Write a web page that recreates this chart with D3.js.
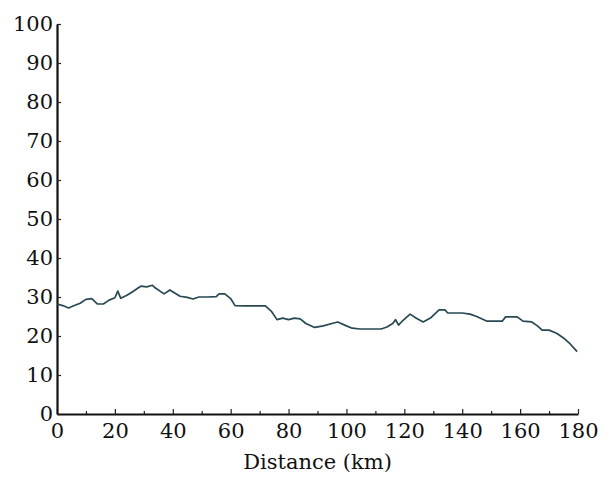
<!DOCTYPE html>
<html>
<head>
<meta charset="utf-8">
<script src="https://cdnjs.cloudflare.com/ajax/libs/d3/7.8.5/d3.min.js"></script>
<style>
  body { margin: 0; background: #fff; }
</style>
</head>
<body>
<div id="chart"></div>
<script>
var width = 605,
    height = 483,
    margin = {top: 24, right: 27, bottom: 69, left: 57},
    serif = "'DejaVu Serif', serif";

// distance along the route (km)
var distance = [0, 2, 4, 6, 8, 10, 12, 14, 16, 18, 20, 21, 22, 24, 26, 28, 29, 31, 33, 34,
  37, 39, 42.5, 45, 47, 49, 52, 55, 56, 58, 60, 61.5, 65, 70, 72, 74, 76, 78, 80, 82, 84,
  86, 89, 92, 95, 97, 100, 102, 104.7, 108, 112, 114, 116, 117, 118, 119, 122, 124, 126.5, 129, 132,
  134, 135, 140, 142.7, 145, 148.6, 153.8, 155, 159, 161, 164, 166, 167.6, 170, 172.6, 175, 177, 179.7];
// value along the route
var value = [28.2, 27.8, 27.2, 27.8, 28.4, 29.4, 29.6, 28.2, 28.2, 29.2, 29.8, 31.5, 29.7, 30.4, 31.3, 32.3, 32.8, 32.6, 33, 32.3,
  30.8, 31.8, 30.2, 29.9, 29.5, 30, 30, 30.1, 30.8, 30.8, 29.6, 27.8, 27.7, 27.7, 27.7, 26.4, 24.2, 24.6, 24.2, 24.6, 24.4,
  23.2, 22.2, 22.6, 23.2, 23.6, 22.6, 22, 21.8, 21.8, 21.8, 22.3, 23.2, 24.2, 22.8, 23.6, 25.6, 24.6, 23.6, 24.6, 26.7,
  26.7, 25.9, 25.9, 25.6, 25, 23.8, 23.8, 24.9, 24.9, 23.8, 23.6, 22.6, 21.5, 21.5, 20.7, 19.5, 18.2, 16];

var xTicks = [0, 20, 40, 60, 80, 100, 120, 140, 160, 180],
    xMinor = [10, 30, 50, 70, 90, 110, 130, 150, 170],
    yTicks = [0, 10, 20, 30, 40, 50, 60, 70, 80, 90, 100];

var svg = d3.select("#chart").append("svg")
    .attr("width", width)
    .attr("height", height);

var x = d3.scaleLinear()
    .domain([0, 180])
    .range([margin.left, width - margin.right]);

var y = d3.scaleLinear()
    .domain([0, 100])
    .range([height - margin.bottom, margin.top]);

// minor ticks on the x axis
svg.append("g")
    .attr("transform", "translate(0," + y(0) + ")")
    .call(d3.axisBottom(x).tickValues(xMinor).tickSize(-3).tickFormat(""))
    .call(function (g) { g.select(".domain").remove(); })
    .selectAll("line").attr("stroke", "#222").attr("stroke-width", 1.2);

var xAxis = svg.append("g")
    .attr("transform", "translate(0," + y(0) + ")")
    .call(d3.axisBottom(x).tickValues(xTicks).tickSizeInner(-5).tickSizeOuter(0).tickPadding(9));

var yAxis = svg.append("g")
    .attr("transform", "translate(" + x(0) + ",0)")
    .call(d3.axisLeft(y).tickValues(yTicks).tickSizeInner(-4).tickSizeOuter(0).tickPadding(4));

[xAxis, yAxis].forEach(function (g) {
  g.attr("font-family", serif).attr("font-size", 21);
  g.select(".domain").attr("stroke", "#111").attr("stroke-width", 2.2);
  g.selectAll(".tick line").attr("stroke", "#222").attr("stroke-width", 1.2);
  g.selectAll(".tick text").attr("fill", "#111");
});

var line = d3.line()
    .x(function (d, i) { return x(distance[i]); })
    .y(function (d) { return y(d); });

svg.append("path")
    .datum(value)
    .attr("fill", "none")
    .attr("stroke", "#284852")
    .attr("stroke-width", 1.7)
    .attr("stroke-linejoin", "round")
    .attr("d", line);

svg.append("text")
    .attr("x", (x(0) + x(180)) / 2)
    .attr("y", 469)
    .attr("text-anchor", "middle")
    .attr("font-family", serif)
    .attr("font-size", 21)
    .attr("fill", "#111")
    .text("Distance (km)");
</script>
</body>
</html>
